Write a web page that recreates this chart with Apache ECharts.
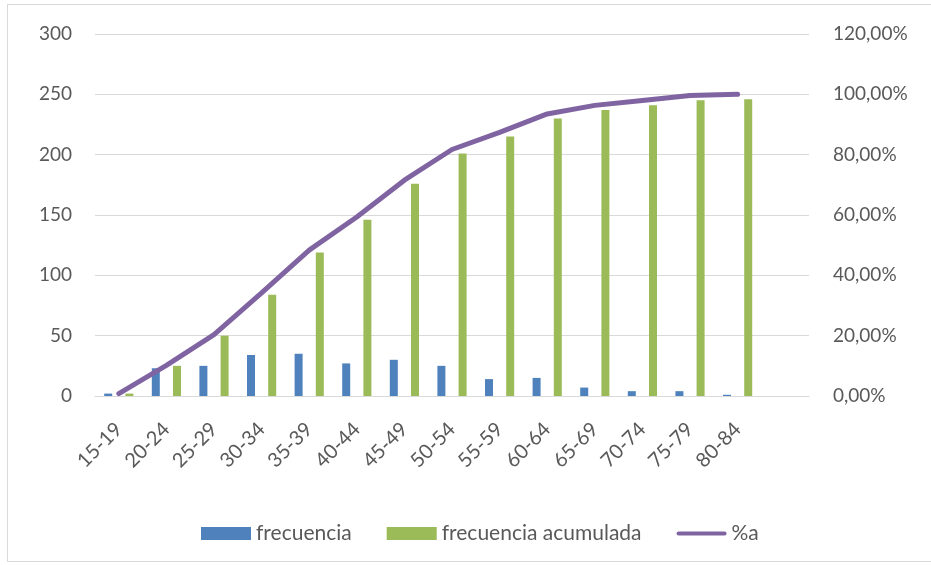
<!DOCTYPE html>
<html>
<head>
<meta charset="utf-8">
<script src="https://cdn.jsdelivr.net/npm/echarts@6/dist/echarts.min.js"></script>
<style>
  body { margin: 0; background: #fff; }
  #box { position: absolute; left: 7px; top: 4px; width: 930px; height: 558px; border: 1px solid #d9d9d9; box-sizing: border-box; }
  #main { position: absolute; left: 0; top: 0; width: 931px; height: 565px; }
</style>
</head>
<body>
<div id="box"></div>
<div id="main"></div>
<script>
// grupos de edad (el ultimo queda vacio, como en la hoja)
var categorias = ['15-19', '20-24', '25-29', '30-34', '35-39', '40-44', '45-49', '50-54', '55-59', '60-64', '65-69', '70-74', '75-79', '80-84', ''];
var frecuencia = [2, 23, 25, 34, 35, 27, 30, 25, 14, 15, 7, 4, 4, 1, null];
var acumulada = [2, 25, 50, 84, 119, 146, 176, 201, 215, 230, 237, 241, 245, 246, null];
var porcentaje = [0.0081, 0.1016, 0.2033, 0.3415, 0.4837, 0.5935, 0.7154, 0.8171, 0.8740, 0.9350, 0.9634, 0.9797, 0.9959, 1.0000, null];

var gris = '#595959';
var fuente = 'Lato';

var myChart = echarts.init(document.getElementById('main'));
myChart.setOption({
    animation: false,
    textStyle: { fontFamily: fuente },
    grid: { left: 95, right: 122, top: 34, bottom: 169 },
    legend: {
        top: 518,
        left: 196,
        itemWidth: 50,
        itemHeight: 13,
        itemGap: 35,
        textStyle: { fontSize: 21, color: gris, fontFamily: fuente },
        data: [
            { name: 'frecuencia', icon: 'rect' },
            { name: 'frecuencia acumulada', icon: 'rect' },
            { name: '%a', icon: 'path://M2,0 L48,0 A2,2 0 0 1 48,4 L2,4 A2,2 0 0 1 2,0 Z' }
        ]
    },
    xAxis: {
        type: 'category',
        data: categorias,
        axisLine: { lineStyle: { color: '#d9d9d9', width: 1 } },
        axisTick: { show: false },
        axisLabel: { rotate: 45, fontSize: 20, color: gris, margin: 30, interval: 0 }
    },
    yAxis: [{
        type: 'value',
        min: 0, max: 300, interval: 50,
        axisLine: { show: false },
        axisTick: { show: false },
        splitLine: { lineStyle: { color: '#d9d9d9' } },
        axisLabel: { fontSize: 19, color: gris, margin: 23 }
    }, {
        type: 'value',
        min: 0, max: 1.2, interval: 0.2,
        axisLine: { show: false },
        axisTick: { show: false },
        splitLine: { show: false },
        axisLabel: {
            fontSize: 19, color: gris, margin: 24,
            formatter: function (v) { return (v * 100).toFixed(2).replace('.', ',') + '%'; }
        }
    }],
    series: [{
        name: 'frecuencia',
        type: 'bar',
        data: frecuencia,
        barWidth: 8,
        barGap: '165%',
        itemStyle: { color: '#4F81BD' }
    }, {
        name: 'frecuencia acumulada',
        type: 'bar',
        data: acumulada,
        barWidth: 8,
        itemStyle: { color: '#9BBB59' }
    }, {
        name: '%a',
        type: 'line',
        yAxisIndex: 1,
        data: porcentaje,
        symbol: 'none',
        lineStyle: { color: '#8064A2', width: 5, cap: 'round' },
        itemStyle: { color: '#8064A2' }
    }]
});
</script>
</body>
</html>
